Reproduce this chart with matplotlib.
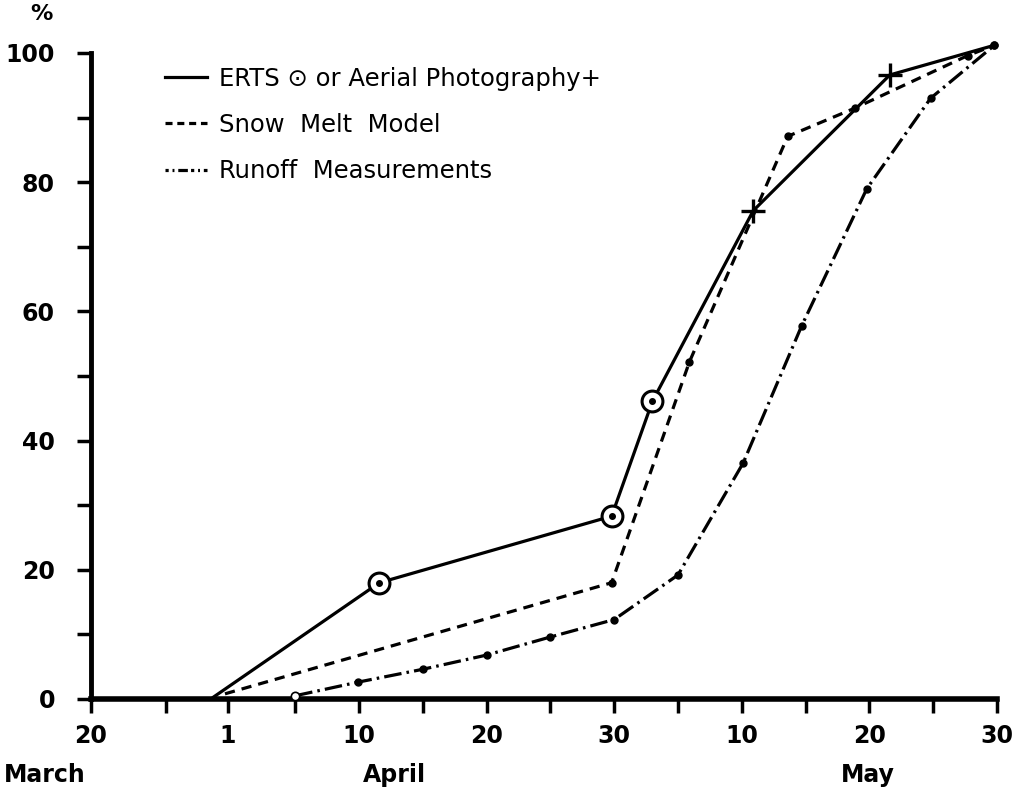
import numpy as np
import matplotlib.pyplot as plt
from matplotlib.lines import Line2D

# x values are days after 20 March, y values are percent

# solid line: ERTS (circles) or aerial photography (crosses)
ground_day = [9.6, 22.6, 40.8, 44.0, 51.9, 62.6, 70.8]
ground_pct = [0.3, 18.0, 28.3, 46.1, 75.6, 96.6, 101.2]
erts_day = [22.6, 40.8, 44.0]
erts_pct = [18.0, 28.3, 46.1]
aerial_day = [51.9, 62.6]
aerial_pct = [75.6, 96.6]

# dashed: snow melt model
model_day = [10.5, 40.8, 46.9, 54.6, 59.9, 68.7, 70.8]
model_pct = [0.8, 18.0, 52.2, 87.1, 91.5, 99.6, 101.2]

# dash-dot: runoff measurements
runoff_day = [16.0, 20.9, 26.0, 31.0, 36.0, 41.0, 46.0, 51.1, 55.7, 60.8, 65.8, 70.8]
runoff_pct = [0.5, 2.6, 4.6, 6.8, 9.6, 12.3, 19.2, 36.5, 57.8, 79.0, 93.0, 101.2]

major_pos = [0, 10.7, 21, 31, 41, 51, 61, 71]
major_lab = ['20', '1', '10', '20', '30', '10', '20', '30']
minor_pos = [5.9, 16, 26, 36, 46, 56, 66]
month_pos = [-3.6, 23.8, 60.9]
month_lab = ['March', 'April', 'May']
y_major = [0, 20, 40, 60, 80, 100]
y_major_lab = ['0', '20', '40', '60', '80', '100']
y_minor = [10, 30, 50, 70, 90]

plt.rcParams['font.family'] = 'DejaVu Sans'

fig = plt.figure(figsize=(10.19, 7.97), dpi=100)
ax = fig.add_axes([91 / 1019, 98 / 797, 906 / 1019, 646 / 797])

lw = 2.3
ax.plot(ground_day, ground_pct, color='black', lw=lw, clip_on=False, zorder=3)
ax.plot(erts_day, erts_pct, 'o', ms=15, mfc='white', mec='black', mew=2.2, clip_on=False, zorder=4)
ax.plot(erts_day, erts_pct, 'o', ms=4, color='black', clip_on=False, zorder=5)
ax.plot(aerial_day, aerial_pct, '+', ms=17, mew=2.4, color='black', clip_on=False, zorder=4)

ax.plot(model_day[1:], model_pct[1:], 'o', ms=5, color='black', clip_on=False, zorder=4)
ax.plot(model_day, model_pct, color='black', lw=lw, dashes=(3.2, 2.2), clip_on=False, zorder=3)

ax.plot(runoff_day, runoff_pct, color='black', lw=lw, dashes=(5.5, 1.6, 0.8, 1.6), clip_on=False, zorder=3)
ax.plot(runoff_day[1:], runoff_pct[1:], 'o', ms=5, color='black', clip_on=False, zorder=4)
ax.plot(runoff_day[:1], runoff_pct[:1], 'o', ms=6, mfc='white', mec='black', mew=1.2, clip_on=False, zorder=4)

ax.set_xlim(0, 71)
ax.set_ylim(0, 100)

for s in ['top', 'right']:
    ax.spines[s].set_visible(False)
ax.spines['bottom'].set_linewidth(4)
ax.spines['left'].set_linewidth(3.5)

ax.set_xticks(major_pos)
ax.set_xticklabels(major_lab)
ax.set_xticks(minor_pos, minor=True)
ax.set_yticks(y_major)
ax.set_yticklabels(y_major_lab)
ax.set_yticks(y_minor, minor=True)

ax.tick_params(axis='both', which='both', direction='out', length=10, width=2.5, color='black')
ax.tick_params(axis='x', which='major', pad=8, labelsize=17)
ax.tick_params(axis='y', which='major', pad=16, labelsize=17)
for t in ax.get_xticklabels() + ax.get_yticklabels():
    t.set_fontweight('bold')

for pos, lab in zip(month_pos, month_lab):
    ax.text(pos, -0.118, lab, transform=ax.get_xaxis_transform(), ha='center', va='center',
            fontsize=17, fontweight='bold', clip_on=False)

ax.text(-0.055, 1.06, '%', transform=ax.transAxes, ha='center', va='center', fontsize=16, fontweight='bold')

handles = [
    Line2D([], [], color='black', lw=lw),
    Line2D([], [], color='black', lw=lw, dashes=(2.2, 1.5)),
    Line2D([], [], color='black', lw=lw, dashes=(1.0, 1.2, 0.6, 1.2, 3.0, 1.0)),
]
labels = ['ERTS \u2299 or Aerial Photography+', 'Snow  Melt  Model', 'Runoff  Measurements']
leg = ax.legend(handles, labels, loc='upper left', bbox_to_anchor=(0.082, 0.979), frameon=False,
                fontsize=17.5, handlelength=1.7, handletextpad=0.5, labelspacing=0.92, borderpad=0,
                borderaxespad=0)

fig.savefig('out.png', dpi=100)
